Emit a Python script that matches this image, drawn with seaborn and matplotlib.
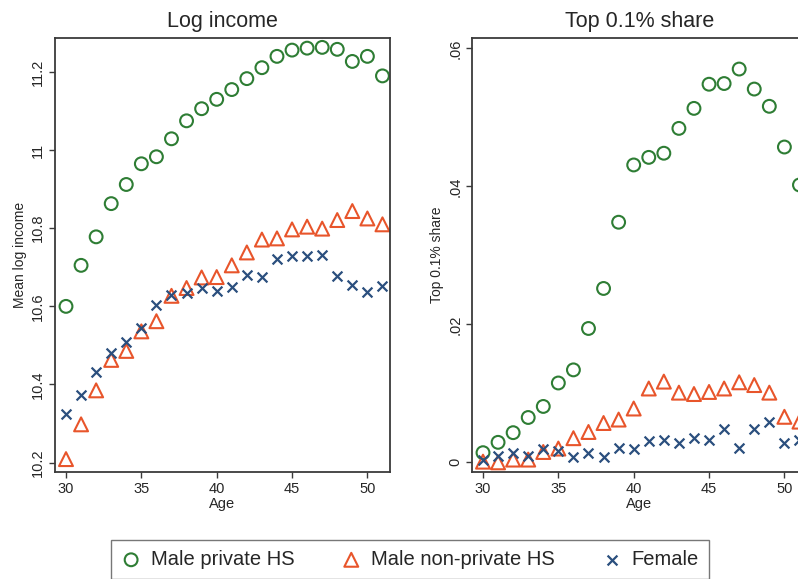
import numpy as np
import pandas as pd
import seaborn as sns
from matplotlib import pyplot as plt

# Age grid
ages = list(range(30, 52))

# Panel 1: mean log income
log_private = [10.600, 10.705, 10.778, 10.863, 10.912, 10.965, 10.983, 11.029, 11.075, 11.106, 11.130,
               11.155, 11.183, 11.211, 11.240, 11.256, 11.261, 11.263, 11.258, 11.227, 11.240, 11.190]
log_nonprivate = [10.209, 10.298, 10.385, 10.463, 10.486, 10.536, 10.562, 10.627, 10.647, 10.674, 10.675,
                  10.705, 10.738, 10.771, 10.774, 10.797, 10.804, 10.799, 10.821, 10.844, 10.825, 10.810]
log_female = [10.325, 10.372, 10.432, 10.481, 10.509, 10.545, 10.604, 10.630, 10.633, 10.647, 10.640,
              10.649, 10.681, 10.675, 10.722, 10.728, 10.728, 10.731, 10.677, 10.654, 10.636, 10.651]

# Panel 2: top 0.1% share
top_private = [0.0014, 0.0029, 0.0043, 0.0065, 0.0081, 0.0115, 0.0134, 0.0194, 0.0252, 0.0348, 0.0431,
               0.0442, 0.0448, 0.0484, 0.0513, 0.0548, 0.0549, 0.0570, 0.0541, 0.0516, 0.0457, 0.0402]
top_nonprivate = [0.0001, 0.0000, 0.0004, 0.0004, 0.0015, 0.0020, 0.0035, 0.0044, 0.0057, 0.0062, 0.0078,
                  0.0107, 0.0117, 0.0101, 0.0099, 0.0102, 0.0107, 0.0116, 0.0112, 0.0101, 0.0066, 0.0059]
top_female = [0.0003, 0.0009, 0.0013, 0.0009, 0.0020, 0.0017, 0.0008, 0.0014, 0.0008, 0.0021, 0.0020,
              0.0031, 0.0033, 0.0028, 0.0036, 0.0032, 0.0048, 0.0021, 0.0048, 0.0058, 0.0028, 0.0032]

groups = ['Male private HS', 'Male non-private HS', 'Female']
colors = ['#2e7d34', '#e8552b', '#2b4f7e']
markers = ['o', '^', 'x']

log_ticks = [10.2, 10.4, 10.6, 10.8, 11.0, 11.2]
log_ticklabels = ['10.2', '10.4', '10.6', '10.8', '11', '11.2']
top_ticks = [0, 0.02, 0.04, 0.06]
top_ticklabels = ['0', '.02', '.04', '.06']
x_ticks = [30, 35, 40, 45, 50]

sns.set_style("ticks")
plt.rcParams['font.family'] = ['Liberation Sans', 'DejaVu Sans']

df_log = pd.DataFrame({'Age': ages, groups[0]: log_private, groups[1]: log_nonprivate, groups[2]: log_female})
df_top = pd.DataFrame({'Age': ages, groups[0]: top_private, groups[1]: top_nonprivate, groups[2]: top_female})

fig = plt.figure(figsize=(7.98, 5.79), dpi=100)
W, H = 798, 579
ax1 = fig.add_axes([55 / W, 1 - 472 / H, 335 / W, 434 / H])
ax2 = fig.add_axes([472 / W, 1 - 472 / H, 335 / W, 434 / H])


def draw(ax, df):
    for g, c, m in zip(groups, colors, markers):
        if m == 'x':
            sns.scatterplot(data=df, x='Age', y=g, marker=m, color=c, s=50, linewidth=1.6, ax=ax, label=g)
        else:
            sns.scatterplot(data=df, x='Age', y=g, marker=m, color=c, facecolor='none', edgecolor=c,
                            s=85 if m == 'o' else 100, linewidth=1.5, ax=ax, label=g)
    ax.get_legend().remove()
    ax.set_xlim(29.27, 51.5)
    ax.set_xticks(x_ticks)
    ax.set_xlabel('Age', fontsize=10.5, labelpad=1)
    for s in ax.spines.values():
        s.set_color('#3a3a3a')
        s.set_linewidth(1.3)
    ax.tick_params(axis='both', direction='out', length=4, width=1, color='#3a3a3a', labelsize=10.5, pad=3)


draw(ax1, df_log)
ax1.set_ylim(10.176, 11.287)
ax1.set_yticks(log_ticks)
ax1.set_yticklabels(log_ticklabels, rotation=90, va='center')
ax1.set_ylabel('Mean log income', fontsize=10, labelpad=3)
ax1.set_title('Log income', fontsize=15.5, pad=8)

draw(ax2, df_top)
ax2.set_ylim(-0.0014, 0.0615)
ax2.set_yticks(top_ticks)
ax2.set_yticklabels(top_ticklabels, rotation=90, va='center')
ax2.set_ylabel('Top 0.1% share', fontsize=10, labelpad=3)
ax2.set_title('Top 0.1% share', fontsize=15.5, pad=8)

handles, labels = ax1.get_legend_handles_labels()
leg = fig.legend(handles, labels, loc='upper center', bbox_to_anchor=(410 / W, 1 - 540 / H), ncol=3,
                 fontsize=14.5, frameon=True, fancybox=False, edgecolor='#555555', borderpad=0.5,
                 handletextpad=0.5, columnspacing=2.3, handlelength=1.0, borderaxespad=0)
leg.get_frame().set_linewidth(1.0)

fig.savefig('out.png', dpi=100)
